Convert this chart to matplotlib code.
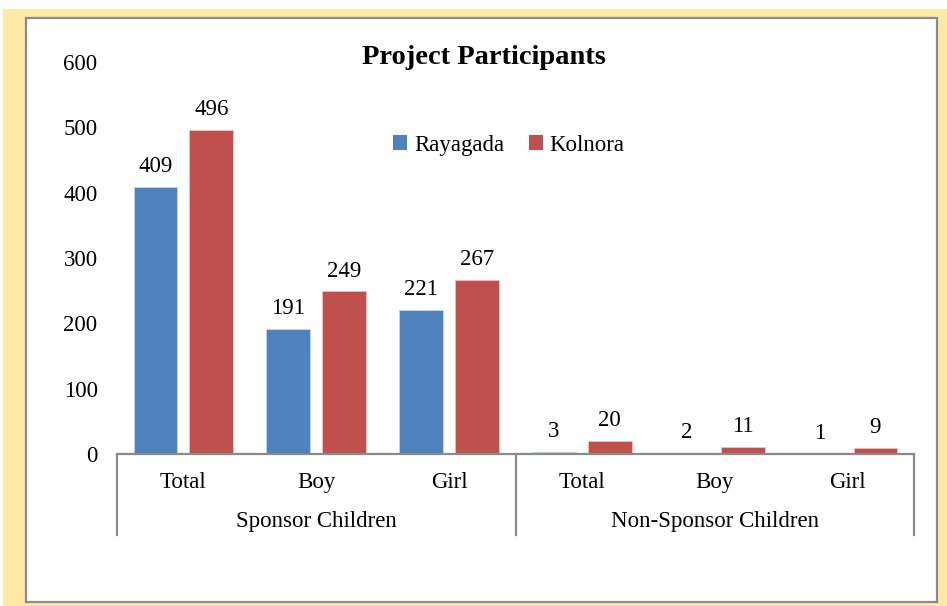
import matplotlib
matplotlib.use("Agg")
import matplotlib.pyplot as plt
from matplotlib.patches import Rectangle, Patch
import matplotlib.transforms as mtransforms
import numpy as np

plt.rcParams['font.family'] = ['Liberation Serif', 'DejaVu Serif']

groups = ["Sponsor Children", "Non-Sponsor Children"]
categories = ["Total", "Boy", "Girl", "Total", "Boy", "Girl"]
series_names = ["Rayagada", "Kolnora"]
rayagada = [409, 191, 221, 3, 2, 1]
kolnora = [496, 249, 267, 20, 11, 9]
yticks = [0, 100, 200, 300, 400, 500, 600]
colors = ["#4F81BD", "#C0504D"]

W, H = 947, 606
fig = plt.figure(figsize=(W / 100, H / 100), dpi=100)
fig.patch.set_facecolor("white")

# outer yellow frame and inner white panel
fig.patches.append(Rectangle((3 / W, 0), 1 - 3 / W, 1 - 9 / H, transform=fig.transFigure,
                             facecolor="#FFE8A6", edgecolor="none", zorder=-2))
fig.patches.append(Rectangle((26 / W, 1 - 602 / H), (937 - 26) / W, (602 - 18) / H,
                             transform=fig.transFigure, facecolor="white",
                             edgecolor="#8A8A8A", linewidth=1.6, zorder=-1))

left, right = 117 / W, 914 / W
bottom, top = 1 - 454 / H, 1 - 62 / H
ax = fig.add_axes([left, bottom, right - left, top - bottom])
ax.set_facecolor("none")

x = np.arange(len(categories))
bw = 0.33
off = 0.21
b1 = ax.bar(x - off, rayagada, bw, color=colors[0], edgecolor="#C9D7EA", linewidth=0.6, label=series_names[0])
b2 = ax.bar(x + off, kolnora, bw, color=colors[1], edgecolor="#EBC4C3", linewidth=0.6, label=series_names[1])

fs = 16.5
for bars, vals in ((b1, rayagada), (b2, kolnora)):
    for rect, v in zip(bars, vals):
        ax.annotate(str(v), (rect.get_x() + rect.get_width() / 2, rect.get_height()),
                    xytext=(0, 7), textcoords="offset points", ha="center", va="bottom",
                    fontsize=fs, color="black")

ax.set_xlim(-0.5, len(categories) - 0.5)
ax.set_ylim(0, 600)
ax.set_yticks(yticks)
ax.set_yticklabels([str(t) for t in yticks], fontsize=fs)
ax.tick_params(axis="y", length=0, pad=14)
ax.set_xticks([])
for s in ["left", "right", "top"]:
    ax.spines[s].set_visible(False)
ax.spines["bottom"].set_color("#8A8A8A")
ax.spines["bottom"].set_linewidth(1.6)

trans = mtransforms.blended_transform_factory(ax.transData, ax.transAxes)
depth = -(535 - 454) / (454 - 62)
for xs in (-0.5, 2.5, 5.5):
    ax.plot([xs, xs], [0, depth], transform=trans, color="#8A8A8A", lw=1.6, clip_on=False)

cat_y = -(488 - 454) / (454 - 62)
grp_y = -(527 - 454) / (454 - 62)
for xi, c in zip(x, categories):
    ax.text(xi, cat_y, c, transform=trans, ha="center", va="baseline", fontsize=fs)
for gi, g in enumerate(groups):
    ax.text(gi * 3 + 1, grp_y, g, transform=trans, ha="center", va="baseline", fontsize=fs)

fig.text(484 / W, 1 - 58 / H, "Project Participants", ha="center", va="center",
         fontsize=20.5, fontweight="bold")

handles = [Patch(facecolor=colors[0], edgecolor="none"), Patch(facecolor=colors[1], edgecolor="none")]
fig.legend(handles, series_names, loc="center", bbox_to_anchor=(509 / W, 1 - 145 / H), ncol=2,
           frameon=False, fontsize=fs, handlelength=0.6, handleheight=0.6,
           handletextpad=0.3, columnspacing=1.1)

fig.savefig("out.png", dpi=100)
